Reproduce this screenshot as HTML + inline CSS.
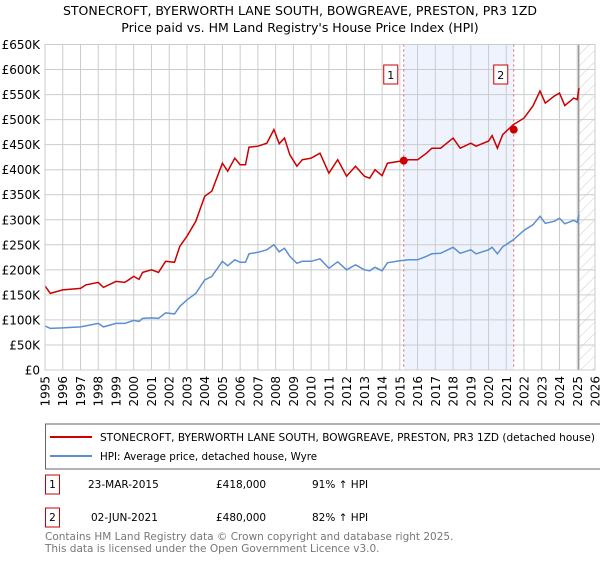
<!DOCTYPE html>
<html><head><meta charset="utf-8"><style>
body{margin:0;background:#fff;font-family:"Liberation Sans","DejaVu Sans",sans-serif;}
svg text{font-family:"DejaVu Sans","Liberation Sans",sans-serif;}
</style></head><body>
<svg id="chart" width="600" height="560" xmlns="http://www.w3.org/2000/svg">
<defs><pattern id="hatch" width="8" height="8" patternUnits="userSpaceOnUse" patternTransform="rotate(45)"><line x1="0" y1="0" x2="0" y2="8" stroke="#ccc" stroke-width="1"/></pattern></defs>
<text x="300" y="15" text-anchor="middle" font-size="12.5">STONECROFT, BYERWORTH LANE SOUTH, BOWGREAVE, PRESTON, PR3 1ZD</text>
<text x="300" y="32" text-anchor="middle" font-size="12.5">Price paid vs. HM Land Registry's House Price Index (HPI)</text>
<g id="plot"></g>
<rect x="45.5" y="424" width="560" height="45" fill="#fff" stroke="#666"/>
<line x1="50" y1="437" x2="92" y2="437" stroke="#cc0000" stroke-width="2"/>
<text x="100" y="441" font-size="10.3" textLength="495" lengthAdjust="spacingAndGlyphs">STONECROFT, BYERWORTH LANE SOUTH, BOWGREAVE, PRESTON, PR3 1ZD (detached house)</text>
<line x1="50" y1="456" x2="92" y2="456" stroke="#5b8fd0" stroke-width="2"/>
<text x="100" y="460" font-size="10.3">HPI: Average price, detached house, Wyre</text>
<g>
<rect x="45.5" y="475" width="14" height="19" fill="#fff" stroke="#cc0000"/><text x="52.5" y="488" text-anchor="middle" font-size="10.5">1</text>
<text x="88" y="488" font-size="10.5">23-MAR-2015</text><text x="216" y="488" font-size="10.5">£418,000</text><text x="312" y="488" font-size="10.5">91% ↑ HPI</text></g>
<g>
<rect x="45.5" y="508" width="14" height="19" fill="#fff" stroke="#cc0000"/><text x="52.5" y="521" text-anchor="middle" font-size="10.5">2</text>
<text x="91" y="521" font-size="10.5">02-JUN-2021</text><text x="216" y="521" font-size="10.5">£480,000</text><text x="312" y="521" font-size="10.5">82% ↑ HPI</text></g>
<text x="45" y="540" font-size="10.5" fill="#777">Contains HM Land Registry data © Crown copyright and database right 2025.</text>
<text x="45" y="552" font-size="10.5" fill="#777">This data is licensed under the Open Government Licence v3.0.</text>
</svg>
<script>
const years=[1995,1995.3,1996,1997,1997.3,1998,1998.3,1999,1999.5,2000,2000.3,2000.5,2001,2001.4,2001.8,2002.3,2002.6,2003,2003.5,2004,2004.4,2005,2005.3,2005.7,2006,2006.3,2006.5,2007,2007.5,2007.9,2008.2,2008.5,2008.8,2009.2,2009.5,2010,2010.5,2011,2011.5,2012,2012.5,2013,2013.3,2013.6,2014,2014.3,2015,2015.5,2016,2016.5,2016.8,2017.3,2018,2018.4,2019,2019.3,2020,2020.2,2020.5,2020.8,2021.4,2022,2022.5,2022.9,2023.2,2023.7,2024,2024.3,2024.8,2025,2025.1];
const hpiValues=[88,83,84,86,88,93,86,93,93,99,97,103,104,103,114,112,127,140,153,180,187,217,208,220,215,215,232,235,240,250,236,243,227,213,217,217,222,203,216,200,210,200,198,205,198,214,218,220,220,227,232,233,245,233,240,232,240,245,232,246,260,279,290,307,293,297,303,292,299,295,310];
const propValues=[168,153,160,163,170,175,165,177,175,187,181,195,200,195,217,215,247,267,297,347,357,413,397,423,410,410,445,447,453,480,452,463,430,407,420,423,433,393,420,387,407,387,383,400,388,413,417,420,420,433,443,443,463,443,453,447,457,468,443,470,490,503,527,557,533,547,553,528,543,540,563];
const saleYears=[2015.22,2021.42];
const salePrices=[418,480];
const saleLabels=["1","2"];
const yTicks=[0,50,100,150,200,250,300,350,400,450,500,550,600,650];
const xTicks=[1995,1996,1997,1998,1999,2000,2001,2002,2003,2004,2005,2006,2007,2008,2009,2010,2011,2012,2013,2014,2015,2016,2017,2018,2019,2020,2021,2022,2023,2024,2025,2026];
const dataEnd=2025.08;
const X0=45,X1=595,Y0=370,Y1=44.5;
const xs=y=>X0+(y-1995)/(2026-1995)*(X1-X0);
const ys=v=>Y0-v/650*(Y0-Y1);
const NS="http://www.w3.org/2000/svg";
const g=document.getElementById('plot');
function mk(t,a){const e=document.createElementNS(NS,t);for(const k in a)e.setAttribute(k,a[k]);g.appendChild(e);return e;}
let r=mk('rect',{x:xs(saleYears[0]),y:Y1,width:xs(saleYears[1])-xs(saleYears[0]),height:Y0-Y1,fill:'#eef3fd'});


r=mk('rect',{x:xs(dataEnd),y:Y1,width:X1-xs(dataEnd),height:Y0-Y1,fill:'url(#hatch)'});


yTicks.forEach(v=>{
 const l=mk('line',{x1:X0,x2:X1,y1:ys(v),y2:ys(v),stroke:'#ccc'});
 
 
 const t=mk('text',{x:40,y:ys(v)+4.5,'text-anchor':'end','font-size':'12'});
 t.textContent=v===0?'£0':'£'+v+'K';
 
 
});
xTicks.forEach(y=>{
 const l=mk('line',{x1:xs(y),x2:xs(y),y1:Y1,y2:Y0,stroke:'#ccc'});
 
 
 const t=mk('text',{x:0,y:0,'font-size':'12','text-anchor':'end',transform:`translate(${xs(y)+4.5},376) rotate(-90)`});
 t.textContent=y;
 
 
});
let dl=mk('line',{x1:xs(dataEnd),x2:xs(dataEnd),y1:Y1,y2:Y0,stroke:'#999','stroke-width':1.5});


saleYears.forEach((y,i)=>{
 const l=mk('line',{x1:xs(y),x2:xs(y),y1:Y1,y2:Y0,stroke:'#e06060','stroke-dasharray':'2,3'});
 
 
});
const path=(vals)=>years.map((y,i)=>(i?'L':'M')+xs(y).toFixed(1)+','+ys(vals[i]).toFixed(1)).join('');
let p=mk('path',{d:path(hpiValues),fill:'none',stroke:'#5b8fd0','stroke-width':1.5});


p=mk('path',{d:path(propValues),fill:'none',stroke:'#cc0000','stroke-width':1.5});


saleYears.forEach((y,i)=>{
 const c=mk('circle',{cx:xs(y),cy:ys(salePrices[i]),r:4,fill:'#cc0000'});
 
 
 const b=mk('rect',{x:xs(y)-20,y:65,width:14,height:19,fill:'#fff',stroke:'#cc0000'});
 
 
 const t=mk('text',{x:xs(y)-13,y:79,'text-anchor':'middle','font-size':'11'});
 t.textContent=saleLabels[i];
 
 
});
let bd=mk('rect',{x:X0,y:Y1,width:X1-X0,height:Y0-Y1,fill:'none',stroke:'#ccc'});


</script>
</body></html>
